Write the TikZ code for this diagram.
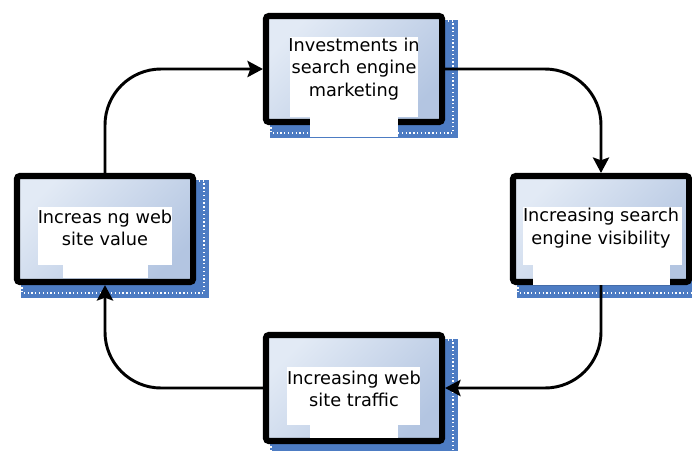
\documentclass[tikz,border=0pt]{standalone}
\usepackage{fontspec}
\setmainfont{DejaVu Sans}
\usetikzlibrary{arrows.meta,backgrounds}

\definecolor{boxlight}{HTML}{E2EAF5}
\definecolor{boxdark}{HTML}{B3C5E1}
\definecolor{shadowblue}{HTML}{4D7CC3}

\tikzset{
  stagebox/.style={draw=black, line width=4.3pt, rounded corners=2pt, minimum width=4.4cm, minimum height=2.65cm, inner sep=0pt, top color=boxlight, bottom color=boxdark, shading angle=45},
  stagetext/.style={font=\fontsize{12.6pt}{16pt}\selectfont, align=center, inner sep=0pt},
  cycle/.style={-{Stealth[length=11pt,width=11.5pt,inset=2pt]}, line width=2.1pt, rounded corners=1.4cm},
  gap/.style={fill=white},
  dots/.style={draw=white, line width=0.9pt, dash pattern=on 0.9pt off 1.8pt}
}

\begin{document}
\begin{tikzpicture}[x=0.025cm, y=-0.025cm]
\useasboundingbox (0,0) rectangle (692,450);

% boxes
\node[stagebox] (invest) at (354,69) {};
\node[stagebox] (value) at (105,229) {};
\node[stagebox] (visib) at (601,229) {};
\node[stagebox] (traffic) at (354,388) {};

% shadows
\begin{scope}[on background layer]
\foreach \b in {invest,value,visib,traffic} {
  \fill[shadowblue] ([shift={(7,7)}]\b.north west) rectangle ([shift={(13,13)}]\b.south east);
  \draw[dots] ([shift={(8,8)}]\b.north west) rectangle ([shift={(8,8)}]\b.south east);
}
\end{scope}

% white patches behind the texts
\fill[gap] (290,37) rectangle (418,117);
\fill[gap] (310,117) rectangle (398,137);
\fill[gap] (38,207) rectangle (172,265);
\fill[gap] (63,265) rectangle (148,278);
\fill[gap] (523,207) rectangle (682,265);
\fill[gap] (533,265) rectangle (670,285);
\fill[gap] (287,367) rectangle (420,425);
\fill[gap] (310,425) rectangle (398,438);

\node[stagetext] (investtxt) at (354,69) {Investments in\\search engine\\marketing};
\node[stagetext] (valuetxt) at (105,228) {Increas ng web\\site value};
\node[stagetext] (visibtxt) at (601,228) {Increasing search\\engine visibility};
\node[stagetext] (traffictxt) at (354,389) {Increasing web\\site traffic};

% connectors
\draw[cycle] (value.north) |- (invest.west);
\draw[cycle] (invest.east) -| (visib.north);
\draw[cycle] (visib.south) |- (traffic.east);
\draw[cycle] (traffic.west) -| (value.south);
\end{tikzpicture}
\end{document}
